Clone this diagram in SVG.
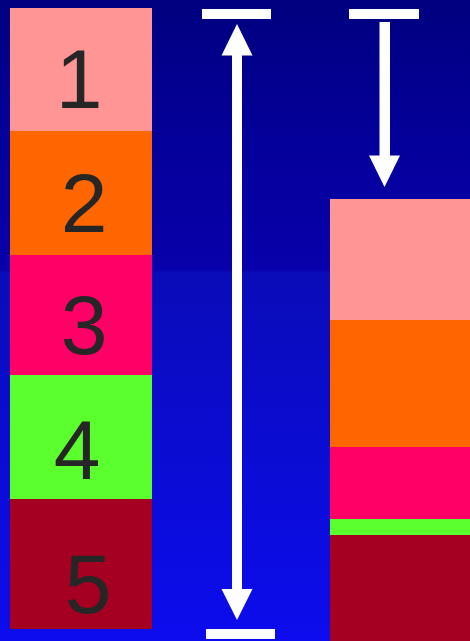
<svg xmlns="http://www.w3.org/2000/svg" width="470" height="641" viewBox="0 0 470 641">
<defs>
<linearGradient id="bg" x1="0" y1="0" x2="0" y2="1">
<stop offset="0" stop-color="#00007f"/>
<stop offset="0.22" stop-color="#04009a"/>
<stop offset="0.42" stop-color="#0800aa"/>
<stop offset="0.425" stop-color="#0a0cb8"/>
<stop offset="1" stop-color="#0c0cee"/>
</linearGradient>
<style>
.num{font-family:"Liberation Sans",Arial,sans-serif;font-size:84px;fill:#262626;text-anchor:middle}
.w{fill:#ffffff}
</style>
</defs>
<rect x="0" y="0" width="470" height="641" fill="url(#bg)"/>
<g id="left-stack">
<g id="box1"><rect x="10" y="8" width="142" height="123" fill="#ff9595"/><text class="num" x="79" y="108">1</text></g>
<g id="box2"><rect x="10" y="131" width="142" height="124" fill="#ff6600"/><text class="num" x="84" y="232">2</text></g>
<g id="box3"><rect x="10" y="255" width="142" height="120" fill="#ff0066"/><text class="num" x="84" y="354">3</text></g>
<g id="box4"><rect x="10" y="375" width="142" height="124" fill="#5cff2e"/><text class="num" x="77" y="479">4</text></g>
<g id="box5"><rect x="10" y="499" width="142" height="130" fill="#a50021"/><text class="num" x="88" y="613">5</text></g>
</g>
<g id="right-stack">
<rect x="330" y="199" width="140" height="121" fill="#ff9595"/>
<rect x="330" y="320" width="140" height="127" fill="#ff6600"/>
<rect x="330" y="447" width="140" height="72" fill="#ff0066"/>
<rect x="330" y="519" width="140" height="16" fill="#5cff2e"/>
<rect x="330" y="535" width="140" height="106" fill="#a50021"/>
</g>
<g id="connectors">
<g id="double-arrow">
<rect class="w" x="202" y="9" width="69" height="10"/>
<rect class="w" x="206" y="629" width="69" height="10"/>
<rect class="w" x="232" y="54" width="10" height="536"/>
<polygon class="w" points="237,24 252.5,55.5 221.5,55.5"/>
<polygon class="w" points="237,620 252.5,589 221.5,589"/>
</g>
<g id="down-arrow">
<rect class="w" x="349" y="9" width="70" height="10"/>
<rect class="w" x="379.5" y="22" width="10.5" height="134"/>
<polygon class="w" points="369,155.5 400,155.5 384.5,187"/>
</g>
</g>
</svg>
